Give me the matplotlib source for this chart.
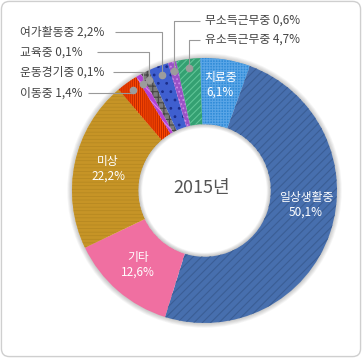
import matplotlib
matplotlib.use("Agg")
import matplotlib.pyplot as plt
from matplotlib.patches import Wedge, FancyBboxPatch
import numpy as np

plt.rcParams['font.family'] = ['Noto Sans CJK KR', 'DejaVu Sans']
plt.rcParams['hatch.linewidth'] = 0.8

#
# DATA (clockwise from the top)
#
names = ["치료중", "일상생활중", "기타", "미상", "이동중", "운동경기중",
         "교육중", "여가활동중", "무소득근무중", "유소득근무중"]
pct_text = ["6,1%", "50,1%", "12,6%", "22,2%", "1,4%", "0,1%",
            "0,1%", "2,2%", "0,6%", "4,7%"]
# slice sizes as drawn in the picture (small slices are drawn wider than labelled)
shares = [6.1, 49.3, 13.1, 20.9, 2.6, 0.7, 1.0, 2.5, 1.0, 2.9]

face_colors = ["#2f8bd8", "#476fae", "#f06fa1", "#e9b134", "#ff4a00", "#b341d6",
               "#7b7b7b", "#3f5fcf", "#9a52c6", "#34a072"]
hatch_colors = ["#5aa5e6", "#3b5e95", None, "#b98a22", "#c42a00", "#d985f0",
                "#454545", "#1b2d8a", "#c98ae8", "#5fc597"]
hatches = ["++++++", "////", None, "------------", "||||||||", "\\\\\\\\",
           "+++", "..", "....", "/////"]

title_year = "2015년"

# geometry in pixels of the original picture
W, H = 362, 358
CX, CY, R = 204.5, 190.5, 132.5
HOLE = 0.5


def X(px):
    return (px - CX) / R


def Y(py):
    return (CY - py) / R


fig = plt.figure(figsize=(W / 100, H / 100), dpi=100)
ax = fig.add_axes([0, 0, 1, 1])

fig.add_artist(FancyBboxPatch((0.004, 0.004), 0.992, 0.992,
                              boxstyle="round,pad=0,rounding_size=0.022",
                              transform=fig.transFigure, facecolor="white",
                              edgecolor="#cfcfcf", linewidth=1, zorder=0))
ax.patch.set_visible(False)

# soft shadow round the ring
for k in range(6):
    ax.add_patch(Wedge((0, 0), 1 + 0.006 * (k + 1), 0, 360, width=0.2,
                       facecolor="black", alpha=0.035, linewidth=0, zorder=1))

start = 90 + 1.9
wedges, _ = ax.pie(shares, radius=1, startangle=start, counterclock=False,
                   colors=face_colors,
                   wedgeprops=dict(width=1 - HOLE, linewidth=0))
for w in wedges:
    w.set_zorder(2)

for w, hc, ht in zip(wedges, hatch_colors, hatches):
    if ht is None:
        continue
    ax.add_patch(Wedge(w.center, w.r, w.theta1, w.theta2, width=w.width,
                       facecolor="none", edgecolor=hc, hatch=ht,
                       linewidth=0, zorder=3))

# shadow inside the hole
for k in range(6):
    ax.add_patch(Wedge((0, 0), HOLE, 0, 360, width=0.005 * (k + 1),
                       facecolor="black", alpha=0.04, linewidth=0, zorder=4))

ax.text(X(202), Y(188), title_year, ha="center", va="center",
        fontsize=13, color="#555555", zorder=5)

# labels inside the big slices
inner_pos = {0: (220, 85), 1: (306, 205), 2: (138, 265), 3: (108, 169)}
for i, (px, py) in inner_pos.items():
    ax.text(X(px), Y(py), names[i] + "\n" + pct_text[i], ha="center", va="center",
            fontsize=8.5, fontweight="medium", color="white", linespacing=1.2,
            zorder=5)

# outer labels with leader lines: text position, line start
outer = {
    8: ((205, 20), (200, 21)),
    9: ((205, 39), (200, 40)),
    7: ((20, 32), (115, 32)),
    6: ((20, 52), (97, 52)),
    5: ((20, 72), (113, 72)),
    4: ((20, 93), (88, 93)),
}
ang_edges = start - np.cumsum([0] + shares) / sum(shares) * 360
for i, ((tx, ty), (lx, ly)) in outer.items():
    mid = np.deg2rad((ang_edges[i] + ang_edges[i + 1]) / 2)
    dx, dy = 0.93 * np.cos(mid), 0.93 * np.sin(mid)
    ax.plot([X(lx), dx, dx], [Y(ly), Y(ly), dy], color="#999999",
            linewidth=0.8, zorder=6, solid_capstyle="butt")
    ax.plot([dx], [dy], "o", markersize=4.5, color="#9c9c9c",
            markeredgecolor="#9c9c9c", zorder=7)
    ax.text(X(tx), Y(ty), names[i] + " " + pct_text[i], ha="left", va="center",
            fontsize=8.5, color="#444444", zorder=5)

ax.set_aspect("auto")
ax.set_xlim(X(0), X(W))
ax.set_ylim(Y(H), Y(0))
ax.axis("off")

fig.savefig("out.png", dpi=100)
